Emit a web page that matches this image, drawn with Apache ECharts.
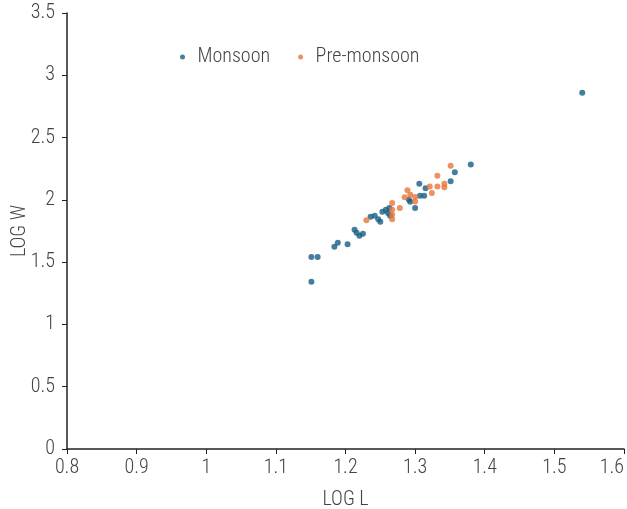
<!DOCTYPE html>
<html>
<head>
<meta charset="utf-8">
<script src="https://cdn.jsdelivr.net/npm/echarts@6/dist/echarts.min.js"></script>
<style>
  html, body { margin: 0; padding: 0; background: #fff; }
  #chart { width: 627px; height: 509px; }
</style>
</head>
<body>
<div id="chart"></div>
<script>
var seriesNames = ['Monsoon', 'Pre-monsoon'];

// LOG L, LOG W pairs
var monsoon = [
  [1.151, 1.343], [1.151, 1.541], [1.160, 1.541], [1.184, 1.624],
  [1.189, 1.656], [1.203, 1.644], [1.213, 1.760], [1.216, 1.736],
  [1.220, 1.712], [1.225, 1.728], [1.236, 1.864], [1.242, 1.872],
  [1.247, 1.845], [1.250, 1.825], [1.253, 1.904], [1.258, 1.920],
  [1.261, 1.894], [1.263, 1.934], [1.264, 1.872], [1.291, 2.001],
  [1.293, 1.985], [1.300, 1.934], [1.306, 2.129], [1.307, 2.033],
  [1.313, 2.033], [1.315, 2.094], [1.351, 2.149], [1.357, 2.222],
  [1.380, 2.284], [1.540, 2.860]
];

var preMonsoon = [
  [1.230, 1.837], [1.267, 1.974], [1.267, 1.920], [1.267, 1.880],
  [1.267, 1.845], [1.278, 1.934], [1.285, 2.021], [1.289, 2.078],
  [1.293, 2.041], [1.300, 2.023], [1.300, 1.987], [1.321, 2.107],
  [1.324, 2.055], [1.332, 2.107], [1.332, 2.193], [1.342, 2.129],
  [1.342, 2.102], [1.351, 2.274]
];

var xTicks = [0.8, 1.6, 0.1];
var yTicks = [0, 3.5, 0.5];

var colors = ['#175e84', '#e8763a'];
var fontFam = '"Roboto Condensed", "Liberation Sans Narrow", Roboto, sans-serif';
var txt = { color: '#444', fontSize: 20, fontFamily: fontFam, fontWeight: 300 };

var chart = echarts.init(document.getElementById('chart'));

var option = {
  color: colors,
  animation: false,
  grid: {
    left: 67,
    right: 3,
    top: 13,
    bottom: 60,
    outerBoundsMode: 'none'
  },
  legend: {
    left: 175,
    top: 42,
    itemWidth: 20,
    itemHeight: 5,
    itemGap: 28,
    textStyle: txt,
    data: seriesNames
  },
  xAxis: {
    type: 'value',
    min: xTicks[0],
    max: xTicks[1],
    interval: xTicks[2],
    name: 'LOG L',
    nameLocation: 'middle',
    nameGap: 41,
    nameTextStyle: txt,
    splitLine: { show: false },
    axisLine: { lineStyle: { color: '#222', width: 1.5 } },
    axisTick: { show: true, length: 5, lineStyle: { color: '#222' } },
    axisLabel: Object.assign({ margin: 9, alignMaxLabel: 'right' }, txt)
  },
  yAxis: {
    type: 'value',
    min: yTicks[0],
    max: yTicks[1],
    interval: yTicks[2],
    name: 'LOG W',
    nameLocation: 'middle',
    nameGap: 37,
    nameMoveOverlap: false,
    nameTextStyle: txt,
    splitLine: { show: false },
    axisLine: { show: true, lineStyle: { color: '#222', width: 1.5 } },
    axisTick: { show: true, length: 5, lineStyle: { color: '#222' } },
    axisLabel: Object.assign({ margin: 12 }, txt)
  },
  series: [
    {
      name: seriesNames[0],
      type: 'scatter',
      symbolSize: 6,
      data: monsoon
    },
    {
      name: seriesNames[1],
      type: 'scatter',
      symbolSize: 6,
      data: preMonsoon
    }
  ]
};

chart.setOption(option);
</script>
</body>
</html>
